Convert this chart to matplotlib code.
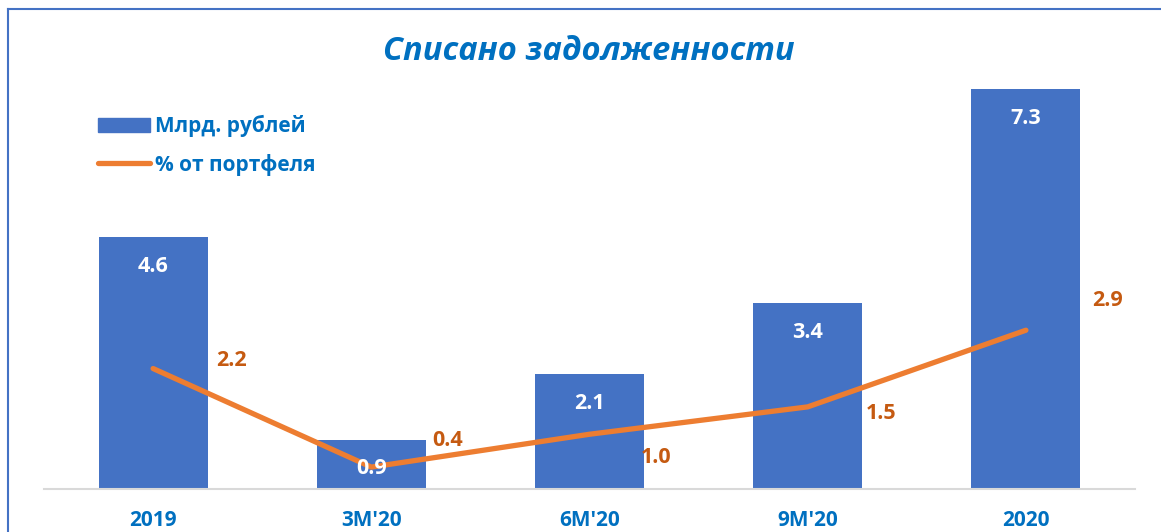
import numpy as np
import matplotlib.pyplot as plt
from matplotlib.lines import Line2D

plt.rcParams['font.family'] = ['Open Sans', 'DejaVu Sans']

# data
categories = ["2019", "3M'20", "6M'20", "9M'20", "2020"]
written_off = [4.6, 0.9, 2.1, 3.4, 7.3]       # Млрд. рублей
share_portfolio = [2.2, 0.4, 1.0, 1.5, 2.9]   # % от портфеля

# label offsets for the line labels (pixels, x / y)
line_lbl_dx = [78, 76, 67, 73, 82]
line_lbl_dy = [8, 27, -23, -7, 30]

blue = '#4472C4'
orange = '#ED7D31'
dark_orange = '#C55A11'
text_blue = '#0070C0'

fig = plt.figure(figsize=(11.61, 5.32), dpi=100)
ax = fig.add_axes([44/1161, 43/532, 1091/1161, 438/532])

x = np.arange(len(categories))
bars = ax.bar(x, written_off, width=0.5, color=blue, zorder=2)
ax.plot(x, share_portfolio, color=orange, lw=3.8, solid_capstyle='round', zorder=3)

ax.set_xlim(-0.5, len(categories) - 0.5)
ax.set_ylim(0, 8)

# bar labels inside the end
for xi, v in zip(x, written_off):
    ax.annotate(f"{v:.1f}", (xi, v), xytext=(0, -21), textcoords='offset points',
                ha='center', va='center', color='white', fontsize=15.5, fontweight='bold', zorder=4)

# line labels
for xi, v, dx, dy in zip(x, share_portfolio, line_lbl_dx, line_lbl_dy):
    ax.annotate(f"{v:.1f}", (xi, v), xytext=(dx * 0.72, dy * 0.72), textcoords='offset points',
                ha='center', va='center', color=dark_orange, fontsize=15.5, fontweight='bold', zorder=4)

ax.set_xticks(x)
ax.set_xticklabels(categories, fontsize=15, fontweight='bold', color=text_blue)
ax.tick_params(axis='x', length=0, pad=15)
ax.set_yticks([])
for s in ['top', 'right', 'left']:
    ax.spines[s].set_visible(False)
ax.spines['bottom'].set_color('#D9D9D9')
ax.spines['bottom'].set_linewidth(1.5)

# title
fig.text(589/1161, 1 - 52/532, "Списано задолженности", ha='center', va='center',
         fontsize=23.5, fontweight='bold', fontstyle='italic', color=text_blue)

# legend
handles = [plt.Rectangle((0, 0), 1, 1, color=blue),
           Line2D([0], [0], color=orange, lw=3.8, solid_capstyle='round')]
leg = fig.legend(handles, ["Млрд. рублей", "% от портфеля"], loc='upper left',
                 bbox_to_anchor=(79/1161, 1 - 96/532), frameon=False,
                 prop={'size': 15, 'weight': 'bold'}, handlelength=2.5, handleheight=0.67,
                 labelspacing=0.8, handletextpad=0.25)
for t in leg.get_texts():
    t.set_color(text_blue)

# chart area border (left and top visible)
fig.add_artist(Line2D([8/1161, 8/1161], [0, 1 - 9/532], color=blue, lw=1.5))
fig.add_artist(Line2D([8/1161, 1], [1 - 9/532, 1 - 9/532], color=blue, lw=1.5))

fig.savefig('out.png', dpi=100)
